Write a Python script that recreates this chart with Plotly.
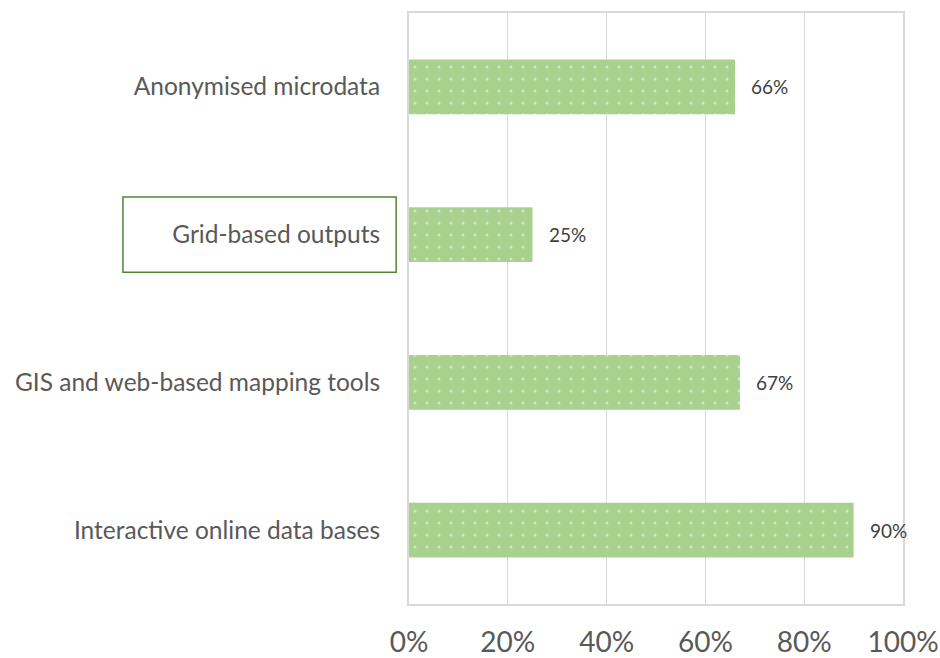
import plotly.graph_objects as go

categories = ["Anonymised microdata", "Grid-based outputs",
              "GIS and web-based mapping tools", "Interactive online data bases"]
values = [0.66, 0.25, 0.67, 0.90]
value_labels = ["66%", "25%", "67%", "90%"]
tick_vals = [0, 0.2, 0.4, 0.6, 0.8, 1.0]
tick_text = ["0%", "20%", "40%", "60%", "80%", "100%"]
highlight = "Grid-based outputs"

FONT = "Lato"

fig = go.Figure()
fig.add_trace(go.Bar(
    x=values, y=categories, orientation="h", width=0.37,
    marker=dict(color="#a9d18e", line=dict(width=0),
                pattern=dict(shape=".", fgcolor="white", size=12, solidity=0.05)),
    hoverinfo="skip",
))

for c, v, t in zip(categories, values, value_labels):
    fig.add_annotation(x=v, y=c, text=t, showarrow=False, xanchor="left",
                       xshift=14, font=dict(family=FONT, size=19, color="#404040"))

hi = categories.index(highlight)
fig.add_shape(type="rect", xref="paper", yref="y",
              x0=-0.579, x1=-0.026, y0=hi - 0.255, y1=hi + 0.255,
              line=dict(color="#548235", width=1.5), fillcolor="rgba(0,0,0,0)")

fig.update_layout(
    width=940, height=658,
    margin=dict(l=409, r=37, t=13, b=54, autoexpand=False),
    paper_bgcolor="white", plot_bgcolor="white",
    showlegend=False,
    font=dict(family=FONT, color="#595959"),
)
fig.update_xaxes(range=[0, 1.0], tickvals=tick_vals, ticktext=tick_text,
                 showgrid=True, gridcolor="#d9d9d9", gridwidth=1,
                 showline=True, linecolor="#d9d9d9", linewidth=2, mirror=True,
                 zeroline=False, ticks="", ticklabelstandoff=12, automargin=False,
                 tickfont=dict(family=FONT, size=28, color="#595959"))
fig.update_yaxes(range=[3.5, -0.5], type="category", categoryorder="array",
                 categoryarray=categories, showgrid=False,
                 showline=True, linecolor="#d9d9d9", linewidth=2, mirror=True,
                 ticks="", ticklabelstandoff=22, automargin=False,
                 tickfont=dict(family=FONT, size=24.5, color="#595959"))

fig.write_html("out.html")
